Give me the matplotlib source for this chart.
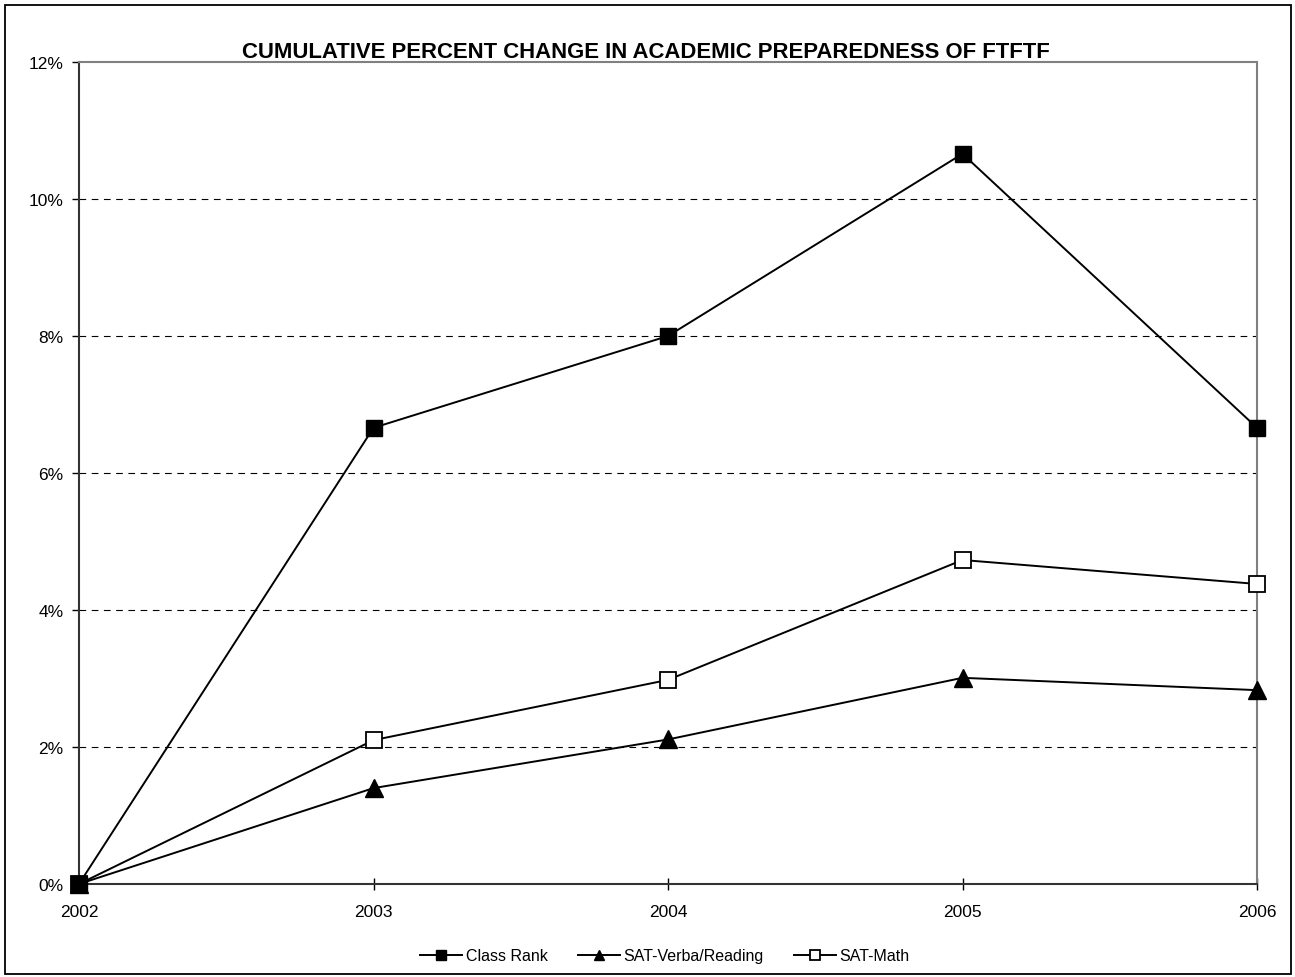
import matplotlib
matplotlib.use("Agg")
import matplotlib.pyplot as plt
from matplotlib.patches import Rectangle
from matplotlib.ticker import FuncFormatter

years = ["2002", "2003", "2004", "2005", "2006"]
class_rank = [0.0, 6.66, 8.0, 10.66, 6.66]
sat_verbal = [0.0, 1.40, 2.11, 3.01, 2.83]
sat_math = [0.0, 2.10, 2.98, 4.73, 4.38]

plt.rcParams['font.family'] = ['Liberation Sans', 'DejaVu Sans']

fig = plt.figure(figsize=(12.95, 9.78), dpi=100)
ax = fig.add_axes([79 / 1295, 1 - 885 / 978, (1257 - 79) / 1295, (885 - 63) / 978])

x = range(len(years))
# class rank drawn on top so its filled square shows at 2002
ax.plot(x, class_rank, color="black", lw=1.4, marker="s", ms=12, mfc="black", mec="black",
        label="Class Rank", clip_on=False, zorder=6)
ax.plot(x, sat_verbal, color="black", lw=1.4, marker="^", ms=12.5, mfc="black", mec="black",
        label="SAT-Verba/Reading", clip_on=False, zorder=5)
ax.plot(x, sat_math, color="black", lw=1.4, marker="s", ms=11.5, mfc="white", mec="black",
        mew=1.3, label="SAT-Math", clip_on=False, zorder=4)

ax.set_xlim(0, 4)
ax.set_ylim(0, 12)
ax.set_xticks(list(x))
ax.set_xticklabels(years)
ax.set_yticks(range(0, 13, 2))
ax.yaxis.set_major_formatter(FuncFormatter(lambda v, p: "%d%%" % v))
ax.tick_params(axis="y", direction="out", length=5, labelsize=12.5, width=1, pad=6)
ax.tick_params(axis="x", direction="inout", length=9, labelsize=12.5, width=1, pad=10)

for yv in range(2, 12, 2):
    ax.axhline(yv, color="black", lw=0.8, ls=(0, (6, 5)), zorder=1)

ax.spines["top"].set_color("#808080")
ax.spines["right"].set_color("#808080")
ax.spines["top"].set_linewidth(1.5)
ax.spines["right"].set_linewidth(1.5)
ax.spines["left"].set_color("#333333")
ax.spines["bottom"].set_color("#333333")
ax.spines["left"].set_linewidth(1.5)
ax.spines["bottom"].set_linewidth(1.5)

fig.text(646 / 1295, 1 - 53 / 978, "CUMULATIVE PERCENT CHANGE IN ACADEMIC PREPAREDNESS OF FTFTF",
         ha="center", va="center", fontsize=15.9, fontweight="bold")

fig.legend(loc="center", bbox_to_anchor=(665 / 1295, 1 - 957 / 978), ncol=3, frameon=False,
           fontsize=11.5, handlelength=2.6, columnspacing=1.9, handletextpad=0.25, markerscale=0.6)

fig.patches.append(Rectangle((5 / 1295, 3 / 978), 1286 / 1295, 969 / 978, transform=fig.transFigure,
                             fill=False, edgecolor="black", lw=1.3))

fig.savefig("out.png", dpi=100)
